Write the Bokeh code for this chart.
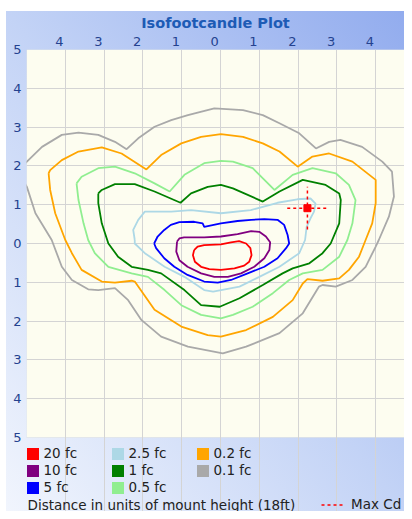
from bokeh.plotting import figure
from bokeh.models import (Range1d, FixedTicker, Legend, LegendItem, Label, BoxAnnotation,
                          CustomJSTickFormatter)
from bokeh.embed import file_html
from bokeh.resources import INLINE

# ---------------- data ----------------
levels = ["20 fc", "10 fc", "5 fc", "2.5 fc", "1 fc", "0.5 fc", "0.2 fc", "0.1 fc"]
colors = ["#ff0000", "#800080", "#0000ff", "#add8e6", "#008000", "#90ee90", "#ffa500", "#a9a9a9"]

red_x = [-0.68, -0.59, -0.42, 0.01, 0.27, 0.48, 0.66, 0.77, 0.80, 0.74, 0.61, 0.36, 0.01, -0.29, -0.50, -0.66, -0.71]
red_y = [-0.17, -0.08, -0.04, -0.02, 0.03, 0.06, 0.0, -0.12, -0.30, -0.47, -0.57, -0.64, -0.68, -0.66, -0.60, -0.47, -0.30]

purple_x = [-1.12, -1.06, -0.94, -0.42, 0.01, 0.44, 0.79, 1.0, 1.17, 1.28, 1.26, 1.13, 0.87, 0.53, 0.19, -0.16, -0.50, -0.85, -1.06, -1.14]
purple_y = [0.05, 0.13, 0.16, 0.16, 0.18, 0.24, 0.32, 0.30, 0.18, 0.03, -0.17, -0.38, -0.60, -0.77, -0.86, -0.86, -0.77, -0.60, -0.43, -0.21]

blue_x = [-1.71, -1.62, -1.45, -1.28, -1.06, -0.68, -0.46, -0.42, 0.01, 0.44, 0.79, 1.13, 1.47, 1.64, 1.73, 1.77, 1.69, 1.47, 1.13, 0.70, 0.27, -0.07, -0.42, -0.85, -1.19, -1.45, -1.66]
blue_y = [0.0, 0.18, 0.35, 0.48, 0.55, 0.56, 0.52, 0.43, 0.52, 0.58, 0.61, 0.63, 0.61, 0.48, 0.22, 0.0, -0.12, -0.38, -0.60, -0.77, -0.94, -1.01, -0.98, -0.81, -0.60, -0.38, -0.12]

lblue_x = [-2.21, -2.25, -2.12, -1.95, -1.27, -0.76, 0.01, 0.78, 1.47, 1.98, 2.32, 2.45, 2.41, 2.32, 2.22, 2.18, 2.03, 1.52, 1.0, 0.49, -0.19, -0.42, -0.93, -1.44, -1.95, -2.21]
lblue_y = [0.09, 0.35, 0.61, 0.82, 0.82, 0.86, 0.78, 0.86, 1.05, 1.14, 1.16, 1.03, 0.82, 0.65, 0.43, 0.09, -0.25, -0.60, -0.86, -1.11, -1.24, -1.20, -0.86, -0.60, -0.25, 0.0]

green_x = [-3.15, -3.06, -2.72, -2.21, -1.70, -1.03, -0.76, -0.33, 0.01, 0.32, 1.09, 1.52, 2.12, 2.71, 3.06, 3.10, 3.06, 2.84, 2.63, 2.29, 1.86, 1.60, 1.09, 0.49, -0.02, -0.50, -0.93, -1.53, -1.87, -2.29, -2.64, -2.89, -3.06, -3.15]
green_y = [1.29, 1.38, 1.53, 1.53, 1.34, 1.05, 1.29, 1.46, 1.51, 1.42, 1.08, 1.34, 1.64, 1.51, 1.29, 1.12, 0.52, 0.0, -0.25, -0.51, -0.64, -0.77, -1.07, -1.41, -1.63, -1.59, -1.20, -0.77, -0.68, -0.60, -0.34, 0.0, 0.52, 1.04]

lgreen_x = [-3.71, -3.58, -3.15, -2.72, -2.21, -1.70, -1.31, -0.93, -0.42, 0.01, 0.32, 0.83, 1.39, 1.86, 2.37, 2.97, 3.31, 3.48, 3.40, 3.27, 3.06, 2.63, 2.12, 1.77, 1.35, 0.83, 0.32, 0.01, -0.50, -1.01, -1.44, -1.87, -2.29, -2.89, -3.24, -3.41, -3.53, -3.66]
lgreen_y = [1.55, 1.72, 1.94, 1.98, 1.81, 1.55, 1.34, 1.77, 2.07, 2.13, 2.11, 1.94, 1.38, 1.77, 1.94, 1.81, 1.51, 1.12, 0.52, 0.09, -0.34, -0.68, -0.77, -0.94, -1.28, -1.63, -1.84, -1.93, -1.84, -1.59, -1.20, -0.86, -0.77, -0.60, -0.25, 0.09, 0.52, 1.12]

orange_x = [-4.43, -4.39, -4.09, -3.66, -3.06, -2.55, -1.91, -1.53, -1.01, -0.50, 0.01, 0.58, 1.09, 1.52, 1.99, 2.37, 2.80, 3.40, 4.0, 4.0, 3.91, 3.74, 3.57, 3.31, 3.06, 2.63, 2.24, 2.12, 1.86, 1.35, 0.66, 0.01, -0.33, -1.01, -1.70, -2.21, -2.29, -2.72, -3.06, -3.58, -3.83, -4.0, -4.26, -4.39]
orange_y = [1.81, 1.89, 2.15, 2.37, 2.48, 2.32, 1.91, 2.28, 2.58, 2.75, 2.82, 2.75, 2.58, 2.37, 1.98, 2.24, 2.32, 2.11, 1.64, 1.04, 0.52, 0.09, -0.34, -0.68, -0.90, -0.96, -0.92, -1.03, -1.46, -1.89, -2.23, -2.40, -2.36, -2.14, -1.71, -0.98, -0.96, -1.01, -0.98, -0.68, -0.25, 0.09, 0.78, 1.38]

gray_x = [-5.15, -4.99, -4.6, -4.09, -3.66, -3.15, -2.72, -2.42, -2.12, -1.70, -1.27, -0.84, -0.16, 0.58, 1.09, 1.52, 2.03, 2.46, 2.80, 3.09, 3.65, 4.17, 4.42, 4.47, 4.34, 4.08, 4.0, 3.74, 3.40, 2.97, 2.63, 2.54, 2.12, 1.52, 0.66, 0.06, -0.84, -1.53, -2.04, -2.38, -2.72, -3.15, -3.41, -3.83, -4.09, -4.35, -4.77, -4.99, -5.15]
gray_y = [1.95, 2.11, 2.49, 2.80, 2.86, 2.80, 2.62, 2.43, 2.71, 3.01, 3.18, 3.31, 3.48, 3.44, 3.31, 3.10, 2.84, 2.45, 2.62, 2.67, 2.49, 2.11, 1.85, 1.21, 0.69, 0.09, -0.08, -0.60, -0.94, -1.11, -1.07, -1.11, -1.80, -2.31, -2.66, -2.83, -2.66, -2.40, -1.97, -1.46, -1.15, -1.20, -1.18, -0.94, -0.60, 0.09, 0.78, 1.46, 1.75]

contours_x = [red_x, purple_x, blue_x, lblue_x, green_x, lgreen_x, orange_x, gray_x]
contours_y = [red_y, purple_y, blue_y, lblue_y, green_y, lgreen_y, orange_y, gray_y]

max_cd_x = [2.24]
max_cd_y = [0.91]

x_ticks = [-4, -3, -2, -1, 0, 1, 2, 3, 4]
y_ticks = [-5, -4, -3, -2, -1, 0, 1, 2, 3, 4, 5]

title_text = "Isofootcandle Plot"
note_text = "Distance in units of mount height (18ft)"
max_cd_text = "Max Cd"

# ---------------- figure ----------------
FONT = "DejaVu Sans"
W, H = 404, 511
ML, MT = 26, 49
PX_PER_UNIT = 38.8
x_end = -5 + (W - ML) / PX_PER_UNIT
y_bottom = -5 - (H - 437) / PX_PER_UNIT   # frame also holds the legend strip
LABEL_SHIFT = -0.15                        # x labels sit just left of their grid line

p = figure(width=W, height=H, x_range=Range1d(-5, x_end), y_range=Range1d(y_bottom, 5),
           output_backend="svg", toolbar_location=None, title=title_text,
           x_axis_location="above", y_axis_location="left",
           min_border_left=ML, min_border_right=0, min_border_top=MT, min_border_bottom=0,
           background_fill_color=None, border_fill_color=None)
p.outline_line_color = None
p.styles = {
    "background-image": "linear-gradient(to top right, #f1f5fd 0%, #c3d3f6 50%, #92acee 100%)",
    "background-repeat": "no-repeat",
    "background-position": "6px 11px",
    "background-size": "calc(100% - 6px) calc(100% - 11px)",
}

# cream plotting area (-5..5 vertically)
p.add_layout(BoxAnnotation(bottom=-5, top=5, fill_color="#fdfdf0", fill_alpha=1.0,
                           line_color="#c4cad6", line_width=1, level="image"))

p.title.align = "center"
p.title.text_font = FONT
p.title.text_font_size = "14.5px"
p.title.text_font_style = "bold"
p.title.text_color = "#1d5bb5"
p.title.standoff = 5
p.title.offset = -2

abs_fmt = CustomJSTickFormatter(code="return String(Math.abs(Math.round(tick)));")

# axes
xa = p.xaxis[0]
xa.ticker = FixedTicker(ticks=[t + LABEL_SHIFT for t in x_ticks])
xa.formatter = abs_fmt
ya = p.yaxis[0]
ya.ticker = FixedTicker(ticks=y_ticks)
ya.formatter = abs_fmt
for ax in (xa, ya):
    ax.axis_line_color = None
    ax.major_tick_line_color = None
    ax.minor_tick_line_color = None
    ax.major_tick_out = 0
    ax.major_label_text_font = FONT
    ax.major_label_text_font_size = "13px"
    ax.major_label_text_color = "#24428f"
xa.major_label_standoff = 4
ya.major_label_standoff = 5

p.xgrid.grid_line_color = "#d4d4d4"
p.ygrid.grid_line_color = "#d4d4d4"
p.xgrid.ticker = FixedTicker(ticks=x_ticks)
p.ygrid.ticker = FixedTicker(ticks=y_ticks[1:-1])
p.xgrid.bounds = (-5, 5)

# contours (outer first)
for xs, ys, c in reversed(list(zip(contours_x, contours_y, colors))):
    p.line(xs + xs[:1], ys + ys[:1], line_color=c, line_width=1.8)

# max cd marker
arm_x, arm_y = 0.52, 0.55
for mx, my in zip(max_cd_x, max_cd_y):
    p.segment(x0=[mx - arm_x, mx], y0=[my, my - arm_y], x1=[mx + arm_x, mx], y1=[my, my + arm_y],
              line_color="#ff0000", line_width=1.5, line_dash="3 3")
p.scatter(max_cd_x, max_cd_y, marker="square", size=7, fill_color="#ff0000", line_color="#ff0000")

# legend (level swatches), placed in the strip under the plotting area
NAN = float("nan")
items = []
for lab, c in zip(levels, colors):
    r = p.quad(left=[NAN], right=[NAN], top=[NAN], bottom=[NAN], fill_color=c, line_color=None)
    items.append(LegendItem(label=lab, renderers=[r]))
leg = Legend(items=items, location=(-1.5, 16), orientation="vertical", nrows=3,
             glyph_width=15, glyph_height=15, label_standoff=4, label_width=65, spacing=1,
             padding=0, margin=0, background_fill_alpha=0, border_line_color=None,
             label_text_font=FONT, label_text_font_size="13.5px", label_text_color="#222222")
p.add_layout(leg, "center")

r_max = p.line([NAN, NAN], [NAN, NAN], line_color="#ff0000", line_width=1.5, line_dash="3 3")
leg2 = Legend(items=[LegendItem(label=max_cd_text, renderers=[r_max])], location=(295, -1),
              glyph_width=22, glyph_height=15, label_standoff=8, padding=0, margin=0,
              background_fill_alpha=0, border_line_color=None,
              label_text_font=FONT, label_text_font_size="13.5px", label_text_color="#222222")
p.add_layout(leg2, "center")

p.add_layout(Label(x=1, y=H - 504, x_units="screen", y_units="screen", text=note_text,
                   text_baseline="middle", text_font=FONT, text_font_size="13.5px",
                   text_color="#222222"))

open("out.html", "w").write(file_html(p, INLINE))
